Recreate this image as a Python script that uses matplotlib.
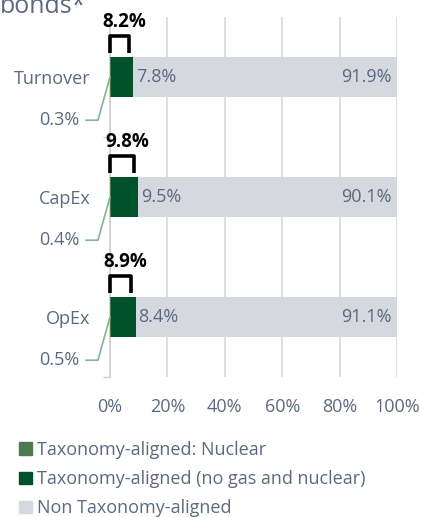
import matplotlib
matplotlib.use("Agg")
import matplotlib.pyplot as plt
from matplotlib.patches import Patch
import numpy as np

categories = ["Turnover", "CapEx", "OpEx"]
nuclear = [0.3, 0.4, 0.5]
aligned = [7.8, 9.5, 8.4]
non_aligned = [91.9, 90.1, 91.1]
totals = ["8.2%", "9.8%", "8.9%"]
xticks = [0, 20, 40, 60, 80, 100]

FONT = "Open Sans"
TXT = "#5B6A80"
C_NUC = "#4E7A50"
C_AL = "#00522A"
C_NON = "#D5D8DF"
C_LEAD = "#86B496"
FS = 13

plt.rcParams["font.family"] = [FONT, "DejaVu Sans"]

fig = plt.figure(figsize=(4.23, 5.17), dpi=100)
ax = fig.add_axes([110/423, (517-377)/517, 287/423, 360/517])

y = np.arange(len(categories))
h = 0.34
ax.barh(y, nuclear, height=h, color=C_NUC, zorder=3)
ax.barh(y, aligned, left=nuclear, height=h, color=C_AL, zorder=3)
left2 = np.array(nuclear) + np.array(aligned)
ax.barh(y, non_aligned, left=left2, height=h, color=C_NON, zorder=3)

ax.set_xlim(0, 100)
ax.set_ylim(2.5, -0.5)
ax.set_xticks(xticks)
ax.set_xticklabels([f"{v}%" for v in xticks], fontsize=FS, color=TXT)
ax.set_yticks(y)
ax.set_yticklabels(categories, fontsize=FS, color=TXT)
ax.set_yticks([0.5, 1.5, 2.5], minor=True)
ax.tick_params(axis="y", which="major", length=0, pad=14)
ax.tick_params(axis="y", which="minor", length=5, color="#D0D0D0", width=1)
ax.tick_params(axis="x", length=0, pad=15)
ax.grid(axis="x", color="#D9D9D9", linewidth=1.2, zorder=0)
for s in ["top", "right", "bottom"]:
    ax.spines[s].set_visible(False)
ax.spines["left"].set_color("#D0D0D0")
ax.spines["left"].set_linewidth(1.2)

for i in range(len(categories)):
    ax.text(left2[i] + 1.0, y[i], f"{aligned[i]}%", va="center", ha="left",
            fontsize=FS, color=TXT, zorder=4)
    ax.text(98.3, y[i], f"{non_aligned[i]}%", va="center", ha="right",
            fontsize=FS, color=TXT, zorder=4)
    ax.plot([0, -4.2, -8.4], [y[i], y[i] + 0.36, y[i] + 0.36], color=C_LEAD,
            lw=1.2, clip_on=False, zorder=4)
    ax.text(-10.5, y[i] + 0.36, f"{nuclear[i]}%", va="center", ha="right",
            fontsize=FS, color=TXT, clip_on=False)
    x1 = left2[i] - 1.5
    ax.plot([0, 0, x1, x1], [y[i] - 0.2, y[i] - 0.34, y[i] - 0.34, y[i] - 0.2],
            color="black", lw=2.6, solid_joinstyle="round", solid_capstyle="butt",
            clip_on=False, zorder=5)
    ax.text(left2[i] / 2 + 1.0, y[i] - 0.46, totals[i], va="center", ha="center",
            fontsize=13.5, fontweight="bold", color="black", clip_on=False, zorder=6)

fig.text(0/423, 1 - 13/517, "bonds*", fontsize=18, color=TXT, va="baseline", ha="left")

handles = [Patch(color=C_NUC), Patch(color=C_AL), Patch(color=C_NON)]
labels = ["Taxonomy-aligned: Nuclear", "Taxonomy-aligned (no gas and nuclear)",
          "Non Taxonomy-aligned"]
fig.legend(handles, labels, loc="upper left", bbox_to_anchor=(19/423, 1 - 441/517),
           frameon=False, fontsize=FS, labelcolor=TXT, handlelength=0.7,
           handleheight=0.7, handletextpad=0.3, labelspacing=0.62, borderaxespad=0,
           borderpad=0)

fig.savefig("out.png", dpi=100)
